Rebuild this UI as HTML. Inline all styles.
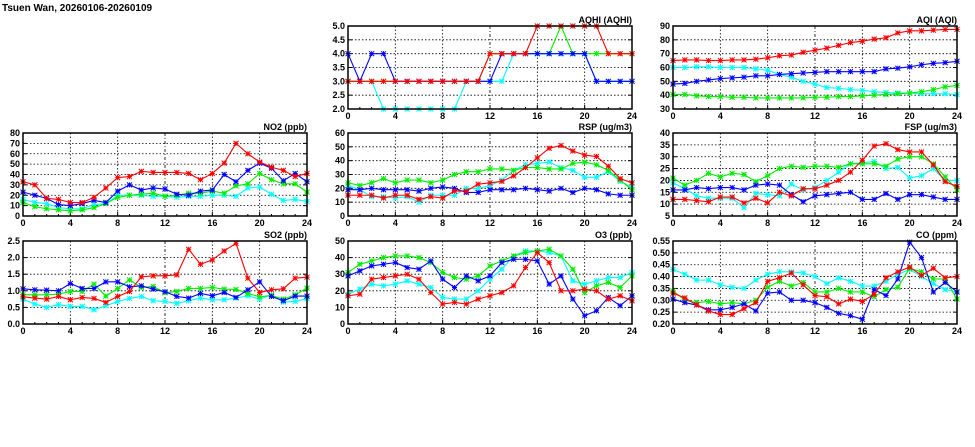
<!DOCTYPE html>
<html><head><meta charset="utf-8"><style>
html,body{margin:0;padding:0;background:#fff;width:975px;height:447px;overflow:hidden}
svg{display:block}
text{font-family:"Liberation Sans",sans-serif;font-weight:bold;font-size:9px;fill:#000}
</style></head><body>
<svg id="chart" width="975" height="447" xmlns="http://www.w3.org/2000/svg">
<text x="2" y="11" style="font-size:10px">Tsuen Wan, 20260106-20260109</text>
</svg>
<script>
const hours = [0,1,2,3,4,5,6,7,8,9,10,11,12,13,14,15,16,17,18,19,20,21,22,23,24];
const xTicks = [0,4,8,12,16,20,24];
const seriesColors = ["#00ffff","#00ee00","#0000ff","#ff0000"];

const no2Red=[33,30,17,16,13,13,18,27,37,38,43,42,42,42,41,35,41,51,70,60,52,47,44,38,41];
const no2Blue=[23,20,17,11,10,12,15,13,24,30,25,27,26,21,20,24,25,40,33,44,51,46,34,41,33];
const no2Green=[13,9,7,6,5,6,8,12,18,20,21,22,19,20,22,22,24,22,29,31,41,35,31,31,23];
const no2Cyan=[16,13,12,8,7,7,11,12,20,20,20,19,19,18,19,19,20,20,19,27,28,21,15,16,14];
const no2Ticks=[0,10,20,30,40,50,60,70,80];

const so2Red=[.82,.78,.75,.83,.73,.8,.77,.65,.83,.98,1.42,1.45,1.45,1.48,2.25,1.8,1.93,2.2,2.43,1.38,.95,1.03,1.06,1.38,1.41];
const so2Blue=[1.06,1.03,1.02,1.0,1.22,1.07,1.07,1.27,1.27,1.12,1.15,1.05,.97,.83,.78,.92,.85,.95,.8,1.03,1.27,.83,.7,.84,.84];
const so2Green=[.88,.88,.88,.9,.98,.98,1.2,.84,1.07,1.33,1.1,1.13,.94,.98,1.07,1.07,1.1,1.05,1.04,.92,.82,.86,.75,.88,1.08];
const so2Cyan=[.75,.6,.5,.58,.53,.53,.43,.55,.68,.77,.83,.7,.68,.62,.7,.78,.73,.73,.78,.85,.75,.88,.66,.68,.76];
const so2Ticks=["0.0","0.5","1.0","1.5","2.0","2.5"];

const aqhiRed=[3,3,3,3,3,3,3,3,3,3,3,3,4,4,4,4,5,5,5,5,5,5,4,4,4];
const aqhiBlue=[4,3,4,4,3,3,3,3,3,3,3,3,3,4,4,4,4,4,4,4,4,3,3,3,3];
const aqhiGreen=[3,3,3,3,3,3,3,3,3,3,3,3,4,4,4,4,4,4,5,4,4,4,4,4,4];
const aqhiCyan=[3,3,3,2,2,2,2,2,2,2,3,3,3,3,4,4,4,4,4,4,4,3,3,3,3];
const aqhiTicks=["2.0","2.5","3.0","3.5","4.0","4.5","5.0"];

const aqiRed=[65,65.5,65.5,65,65,65.5,65.5,66,67,68.5,69,71,72.5,74,76,78,79,80.5,81.5,85,86.5,86.5,87,87.5,87.5];
const aqiBlue=[48,48.5,50,51,52,52.5,53,54,54,55,55.5,56,56.5,57,57,57,57,57,59,59.5,60.5,62,63,63.5,64.5];
const aqiGreen=[40.5,40.5,39.5,39,39,38.5,38.5,38,38,38,38,38,38.5,38.5,39,39,39.5,40,40.5,41,41.5,42.5,44,46,47];
const aqiCyan=[60,60,60.5,60.5,60,60,60,59,58,55,53,50,48,45.5,45,44,43.5,42.5,42,41.5,41.5,41,41,41,40.5];
const aqiTicks=[30,40,50,60,70,80,90];

const rspRed=[15,15,15,13,15,15,12,14,13,18,18,23,24,25,29,35,42,49,51,47,44,43,36,27,24];
const rspBlue=[19,19,20,19,19,19,18,20,21,20,17,17,19,19,19,20,19,18,20,17,20,19,16,15,15];
const rspGreen=[24,22,24,27,24,26,26,24,26,30,32,32,34,34,33,35,35,34,34,38,39,37,33,26,19];
const rspCyan=[22,19,14,14,13,14,10,15,15,15,20,20,22,26,33,37,38,39,35,33,28,28,32,25,21];
const rspTicks=[0,10,20,30,40,50,60];

const fspRed=[12,12,11.5,11,13,13,10.5,12.5,10.5,15,13.5,16.5,16.5,18,20,23.5,28.5,34.5,35.5,33,32,32,26.5,19.5,17.5];
const fspBlue=[16,16,17,16.5,17,17,16,18,18.5,18,14,11,13.5,14,14.5,15,12,12,14.5,12,14,14,13,12,12];
const fspGreen=[21,18,20,23,21.5,23,22.5,19.5,22,25,26,25.5,26,26,25.5,27,27,27,26,29,30,30,27,21.5,16];
const fspCyan=[19,16.5,13.5,12.5,12.5,12.5,8.5,14.5,14,13.5,18.5,16,17,20,23.5,27,27.5,28,25,25.5,21,22,25,20,20];
const fspTicks=[5,10,15,20,25,30,35,40];

const o3Red=[17,18,27,28,29,30,27,19,12,13,12,15,17,19,23,34,43,37,20,20,21,20,15,17,14];
const o3Blue=[29,32,35,36,37,34,33,38,27,22,29,26,29,37,39,39,38,24,29,15,5,8,16,11,17];
const o3Green=[31,36,38,40,41,41,40,37,31,28,27,29,35,38,41,43,44,45,41,33,19,23,25,22,29];
const o3Cyan=[18,21,24,23,24,26,24,22,16,15,15,20,27,33,41,44,44,43,41,26,24,26,28,28,31];
const o3Ticks=[0,10,20,30,40,50];

const coRed=[.33,.31,.28,.255,.24,.24,.265,.29,.38,.395,.415,.365,.32,.315,.285,.305,.295,.325,.395,.42,.44,.405,.435,.395,.40];
const coBlue=[.305,.29,.28,.26,.26,.27,.285,.255,.33,.335,.30,.30,.29,.27,.245,.235,.22,.345,.32,.39,.545,.48,.335,.375,.335];
const coGreen=[.34,.30,.29,.295,.285,.29,.285,.30,.355,.38,.36,.375,.335,.335,.35,.335,.335,.315,.345,.355,.435,.42,.39,.39,.305];
const coCyan=[.43,.41,.385,.385,.365,.355,.35,.385,.41,.42,.42,.415,.40,.37,.395,.38,.36,.36,.38,.41,.43,.40,.37,.345,.335];
const coTicks=["0.20","0.25","0.30","0.35","0.40","0.45","0.50","0.55"];

const NS="http://www.w3.org/2000/svg";
const svg=document.getElementById('chart');
function mk(tag,attrs,parent){const e=document.createElementNS(NS,tag);for(const k in attrs)e.setAttribute(k,attrs[k]);(parent||svg).appendChild(e);return e;}

const COLS=[23,348,673], W=284;
const ROWS=[26,133,241], H=83;

function panel(key,title,col,row,ticks,series){
  const L=COLS[col],T=ROWS[row],R=L+W,B=T+H;
  const g=mk('g',{});
  
  
  const tv=ticks.map(Number);
  const ymin=tv[0],ymax=tv[tv.length-1];
  const xs=h=>L+(h-0)/(24-0)*W;
  const ys=v=>B-(v-ymin)/(ymax-ymin)*H;
  ticks.forEach((t,i)=>{
    const y=ys(Number(t));
    if(i>0&&i<ticks.length-1){
      const gl=mk('line',{x1:L,x2:R,y1:y,y2:y,stroke:'#000','stroke-width':0.8,'stroke-dasharray':'1.5,2'},g);
      
      
    }
    mk('line',{x1:L,x2:L+4,y1:y,y2:y,stroke:'#000','stroke-width':1},g);
    mk('line',{x1:R-4,x2:R,y1:y,y2:y,stroke:'#000','stroke-width':1},g);
    const tx=mk('text',{x:L-3,y:y+3,'text-anchor':'end'},g);
    tx.textContent=t;
    
    
  });
  xTicks.forEach((h,i)=>{
    const x=xs(h);
    if(i>0&&i<xTicks.length-1){
      const gl=mk('line',{x1:x,x2:x,y1:T,y2:B,stroke:'#000','stroke-width':0.8,'stroke-dasharray':h===12?'3,2,1,2':'1.5,2'},g);
      
      
    }
    const tx=mk('text',{x:x,y:B+10,'text-anchor':'middle'},g);
    tx.textContent=h;
    
    
  });
  for(let h=0;h<=24;h++){const x=xs(h);mk('line',{x1:x,x2:x,y1:B,y2:B-(h%4?2:4),stroke:'#000'},g);}
  series.forEach((vals,si)=>{
    const c=seriesColors[si];
    const pl=mk('polyline',{points:vals.map((v,i)=>xs(hours[i])+','+ys(v)).join(' '),fill:'none',stroke:c,'stroke-width':1.1},g);
    
    
    vals.forEach((v,i)=>{
      const x=xs(hours[i]),y=ys(v),s=2.5;
      const p=mk('path',{d:`M${x-s},${y-s}L${x+s},${y+s}M${x-s},${y+s}L${x+s},${y-s}M${x-s},${y}L${x+s},${y}M${x},${y-s}L${x},${y+s}`,stroke:c,'stroke-width':1,fill:'none'},g);
      
      
    });
  });
  const fr=mk('rect',{x:L,y:T,width:W,height:H,fill:'none',stroke:'#000','stroke-width':1.5},g);
  
  
  const tt=mk('text',{x:R,y:T-3,'text-anchor':'end'},g);
  tt.textContent=title;
  
  
}
panel('aqhi','AQHI (AQHI)',1,0,aqhiTicks,[aqhiCyan,aqhiGreen,aqhiBlue,aqhiRed]);
panel('aqi','AQI (AQI)',2,0,aqiTicks,[aqiCyan,aqiGreen,aqiBlue,aqiRed]);
panel('no2','NO2 (ppb)',0,1,no2Ticks,[no2Cyan,no2Green,no2Blue,no2Red]);
panel('rsp','RSP (ug/m3)',1,1,rspTicks,[rspCyan,rspGreen,rspBlue,rspRed]);
panel('fsp','FSP (ug/m3)',2,1,fspTicks,[fspCyan,fspGreen,fspBlue,fspRed]);
panel('so2','SO2 (ppb)',0,2,so2Ticks,[so2Cyan,so2Green,so2Blue,so2Red]);
panel('o3','O3 (ppb)',1,2,o3Ticks,[o3Cyan,o3Green,o3Blue,o3Red]);
panel('co','CO (ppm)',2,2,coTicks,[coCyan,coGreen,coBlue,coRed]);
</script>
</body></html>
